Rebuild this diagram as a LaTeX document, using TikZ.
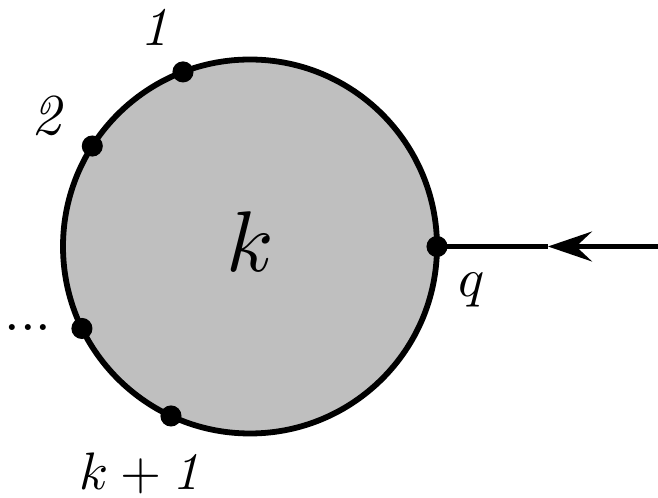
\documentclass[tikz,border=0pt]{standalone}
\usepackage{amsmath}
\usepackage{amssymb}
\usetikzlibrary{arrows.meta,calc}

\begin{document}
\begin{tikzpicture}[scale=1, every node/.style={inner sep=0pt}]
            \useasboundingbox (0,0) rectangle (13.16,9.96);
            \coordinate (o) at (5,5.03);
            \coordinate (p1) at ($(o)+(111:3.74)$);
            \coordinate (p2) at ($(o)+(147.5:3.74)$);
            \coordinate (pd) at ($(o)+(206:3.74)$);
            \coordinate (pk) at ($(o)+(245:3.74)$);
            \coordinate (q) at ($(o)+(0:3.74)$);
            \coordinate (tip) at (10.96,5.03);
            \coordinate (out) at (13.16,5.03);

            \filldraw[fill=black!25, line width=3.3pt] (o) circle (3.74);
            \draw[line width=2.6pt] (q)--(tip);
            \draw[line width=2.6pt, -{Stealth[length=25pt,width=17pt,inset=9pt]}] (out)--(tip);

            \foreach \p in {p1,p2,pd,pk,q}{
                \fill (\p) circle (6pt);
            }

            \node[scale=3.1] (l1) at (3.16,9.4) {$\mathit{1}$};
            \node[scale=3.3] (l2) at (1.0,7.64) {$\mathit{2}$};
            \node[scale=3.2] (ld) at (0.56,3.4) {$...$};
            \node[scale=3.0] (lk) at (2.86,0.5) {$k+\mathit{1}$};
            \node[scale=3.1] (lq) at (9.44,4.16) {$q$};
            \node[scale=4.9] (lkk) at (5.0,5.12) {$k$};
        \end{tikzpicture}
\end{document}
